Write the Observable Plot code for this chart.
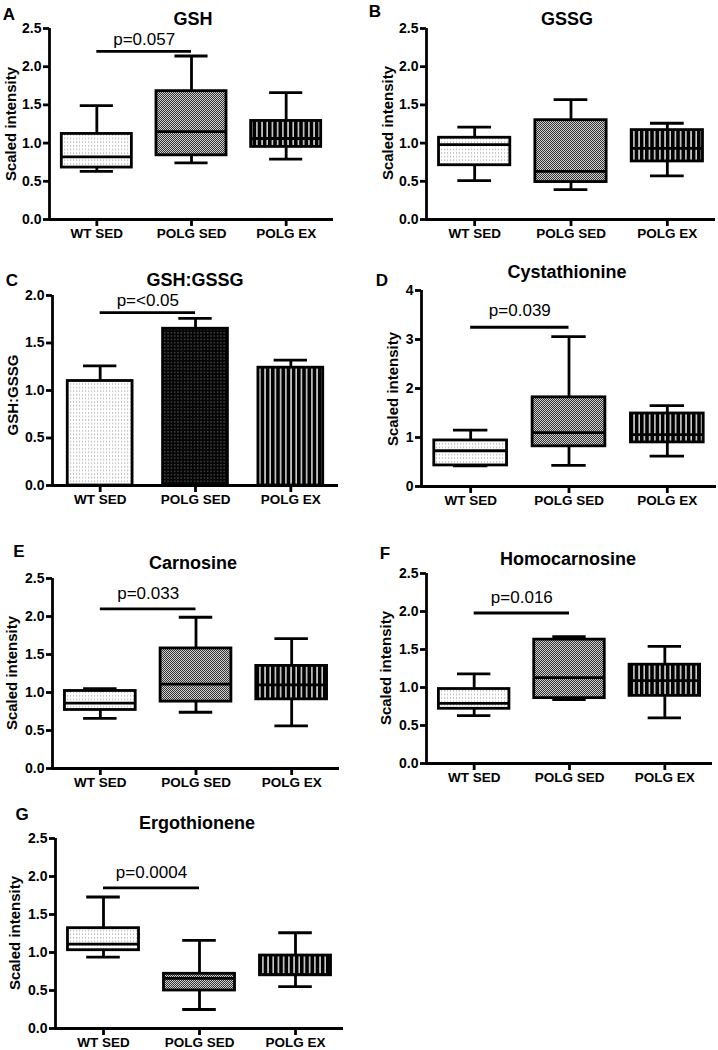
<!DOCTYPE html>
<html><head><meta charset="utf-8">
<script src="https://cdn.jsdelivr.net/npm/d3@7"></script>
<script src="https://cdn.jsdelivr.net/npm/@observablehq/plot@0.6"></script>
<style>
body{margin:0;background:#fff;}
#root{position:relative;width:718px;height:1050px;overflow:hidden;font-family:"Liberation Sans",Arial,sans-serif;background:#fff;}
.lbl{position:absolute;transform:translate(-50%,-50%);white-space:nowrap;font-weight:bold;color:#000;line-height:1;}
.ylab{position:absolute;transform:translate(-50%,-50%) rotate(-90deg);white-space:nowrap;font-weight:bold;font-size:15px;color:#000;line-height:1;}
</style></head><body>
<svg width="0" height="0" style="position:absolute">
<defs>
<pattern id="pWT" width="3" height="3.6" patternUnits="userSpaceOnUse"><rect width="3" height="3.6" fill="#fff"/><rect x="1" y="1.3" width="1.1" height="1" fill="#9a9a9a"/></pattern>
<pattern id="pSED" width="2" height="2" patternUnits="userSpaceOnUse"><rect width="2" height="2" fill="#d0d0d0"/><rect width="1" height="1" fill="#333"/><rect x="1" y="1" width="1" height="1" fill="#333"/></pattern>
<pattern id="pEX" width="5.2" height="4" patternUnits="userSpaceOnUse"><rect width="5.2" height="4" fill="#000"/><rect x="2" width="1.3" height="4" fill="#fff"/></pattern>
<pattern id="pSEDbar" width="3.3" height="3.3" patternUnits="userSpaceOnUse"><rect width="3.3" height="3.3" fill="#050505"/><rect x="1.1" y="1.1" width="1" height="1" fill="#8a8a8a"/></pattern>
</defs></svg>
<div id="root"></div>
<script>
// ---------- DATA ----------
const categories = ["WT SED", "POLG SED", "POLG EX"];

// box stats per category: [low whisker, Q1, median, Q3, high whisker]
const gshStats  = [[0.63,0.68,0.82,1.12,1.49],[0.74,0.84,1.15,1.68,2.14],[0.79,0.95,1.06,1.29,1.66]];
const gssgStats = [[0.51,0.71,0.98,1.07,1.21],[0.39,0.49,0.63,1.30,1.57],[0.57,0.76,0.93,1.17,1.26]];
const cystStats = [[0.42,0.43,0.73,0.94,1.15],[0.43,0.82,1.10,1.82,3.06],[0.62,0.90,1.06,1.49,1.65]];
const carnStats = [[0.66,0.77,0.86,1.02,1.05],[0.74,0.88,1.11,1.58,1.99],[0.56,0.91,1.10,1.35,1.71]];
const homoStats = [[0.63,0.72,0.79,0.98,1.18],[0.84,0.86,1.13,1.63,1.67],[0.60,0.89,1.09,1.30,1.54]];
const ergoStats = [[0.94,1.03,1.11,1.32,1.73],[0.25,0.50,0.66,0.72,1.16],[0.55,0.70,0.71,0.96,1.26]];

// GSH:GSSG ratio, mean and SEM
const ratioMean = [1.10, 1.65, 1.24];
const ratioSem  = [0.16, 0.11, 0.08];

// significance brackets (from/to category index, y level, label)
const sigGSH   = {from: 0, to: 1, y: 2.20, label: "p=0.057"};
const sigRatio = {from: 0, to: 1, y: 1.82, label: "p=<0.05"};
const sigCyst  = {from: 0, to: 1, y: 3.25, label: "p=0.039"};
const sigCarn  = {from: 0, to: 1, y: 2.10, label: "p=0.033"};
const sigHomo  = {from: 0, to: 1, y: 1.98, label: "p=0.016"};
const sigErgo  = {from: 0, to: 1, y: 1.85, label: "p=0.0004"};

// axis ticks
const ticks25 = [0, 0.5, 1.0, 1.5, 2.0, 2.5];
const ticks20 = [0, 0.5, 1.0, 1.5, 2.0];
const ticks4  = [0, 1, 2, 3, 4];

// ---------- STYLE / LAYOUT ----------
const SW = 2.8, BOXW = 0.37, CAPW = 0.175, BARW = 0.34;
const boxFills = ["url(#pWT)", "url(#pSED)", "url(#pEX)"];
const barFills = ["url(#pWT)", "url(#pSEDbar)", "url(#pEX)"];
const root = document.getElementById("root");

function addLabel(cls, text, x, y, size) {
  const d = document.createElement("div");
  d.className = cls; d.textContent = text;
  d.style.left = x + "px"; d.style.top = y + "px";
  if (size) d.style.fontSize = size + "px";
  root.appendChild(d);
}

function panel(p, marks, yDomain, yTicks, fmt, sig) {
  const mL = 34, mR = 4, mT = 10, mB = 28;
  const all = [
    ...marks,
    Plot.ruleX([-0.5], {strokeWidth: SW}),
    Plot.ruleY([0], {strokeWidth: SW}),
    Plot.axisY({ticks: yTicks, tickFormat: fmt, tickSize: 6, tickPadding: 2, strokeWidth: SW, fontSize: 14, fontWeight: "bold", label: null}),
    Plot.axisX({ticks: [0, 1, 2], tickFormat: i => categories[i], tickSize: 7, tickPadding: 2, strokeWidth: SW, fontSize: 13.5, fontWeight: "bold", label: null})
  ];
  if (sig) {
    all.push(Plot.ruleY([sig], {y: "y", x1: "from", x2: "to", strokeWidth: SW}));
    all.push(Plot.text([sig], {x: d => (d.from + d.to) / 2, y: "y", text: "label", dy: p.sigDy, fontSize: 17, fontWeight: "normal"}));
  }
  const svg = Plot.plot({
    width: p.axisEnd - p.axisX + mL + mR,
    height: p.bottom - p.top + mT + mB,
    marginLeft: mL, marginRight: mR, marginTop: mT, marginBottom: mB,
    x: {type: "linear", domain: [-0.5, 2.5]},
    y: {type: "linear", domain: yDomain},
    style: {fontFamily: "'Liberation Sans', Arial, sans-serif", fontSize: "14px", fontWeight: "bold", color: "#000", background: "transparent", overflow: "visible"},
    marks: all
  });
  svg.style.position = "absolute";
  svg.style.left = (p.axisX - mL) + "px";
  svg.style.top = (p.top - mT) + "px";
  root.appendChild(svg);
  addLabel("lbl", p.letter, p.letterPos[0], p.letterPos[1], 17);
  addLabel("lbl", p.title, p.titlePos[0], p.titlePos[1], 18);
  addLabel("ylab", p.ylab, p.ylabPos[0], p.ylabPos[1]);
}

function boxMarks(stats) {
  const rows = stats.map((s, i) => ({i, low: s[0], q1: s[1], med: s[2], q3: s[3], high: s[4]}));
  return [
    Plot.ruleX(rows, {x: "i", y1: "low", y2: "q1", strokeWidth: SW}),
    Plot.ruleX(rows, {x: "i", y1: "q3", y2: "high", strokeWidth: SW}),
    Plot.ruleY(rows, {y: "low", x1: d => d.i - CAPW, x2: d => d.i + CAPW, strokeWidth: SW}),
    Plot.ruleY(rows, {y: "high", x1: d => d.i - CAPW, x2: d => d.i + CAPW, strokeWidth: SW}),
    ...rows.map(r => Plot.rectY([r], {x1: d => d.i - BOXW, x2: d => d.i + BOXW, y1: "q1", y2: "q3", fill: boxFills[r.i], stroke: "#000", strokeWidth: SW})),
    Plot.ruleY(rows, {y: "med", x1: d => d.i - BOXW, x2: d => d.i + BOXW, strokeWidth: SW})
  ];
}

function barMarks(means, sems) {
  const rows = means.map((m, i) => ({i, mean: m, top: m + sems[i]}));
  return [
    Plot.ruleX(rows, {x: "i", y1: "mean", y2: "top", strokeWidth: SW}),
    Plot.ruleY(rows, {y: "top", x1: d => d.i - CAPW, x2: d => d.i + CAPW, strokeWidth: SW}),
    ...rows.map(r => Plot.rectY([r], {x1: d => d.i - BARW, x2: d => d.i + BARW, y1: 0, y2: "mean", fill: barFills[r.i], stroke: "#000", strokeWidth: SW}))
  ];
}

const f1 = d3.format(".1f"), f0 = d3.format("d");

panel({axisX: 49, axisEnd: 333, top: 28, bottom: 219, sigDy: -12, letter: "A", letterPos: [9, 14], title: "GSH", titlePos: [193, 19], ylab: "Scaled intensity", ylabPos: [10, 124]},
  boxMarks(gshStats), [0, 2.5], ticks25, f1, sigGSH);
panel({axisX: 426, axisEnd: 715, top: 28, bottom: 219, letter: "B", letterPos: [375, 11], title: "GSSG", titlePos: [567, 19], ylab: "Scaled intensity", ylabPos: [387, 123]},
  boxMarks(gssgStats), [0, 2.5], ticks25, f1, null);
panel({axisX: 52, axisEnd: 338, top: 295, bottom: 485, sigDy: -12, letter: "C", letterPos: [12, 280], title: "GSH:GSSG", titlePos: [195, 280], ylab: "GSH:GSSG", ylabPos: [12, 395]},
  barMarks(ratioMean, ratioSem), [0, 2.0], ticks20, f1, sigRatio);
panel({axisX: 421, axisEnd: 716, top: 290, bottom: 486, sigDy: -17, letter: "D", letterPos: [382, 280], title: "Cystathionine", titlePos: [567, 272], ylab: "Scaled intensity", ylabPos: [392, 389]},
  boxMarks(cystStats), [0, 4], ticks4, f0, sigCyst);
panel({axisX: 52, axisEnd: 339, top: 578, bottom: 768, sigDy: -15, letter: "E", letterPos: [19, 551], title: "Carnosine", titlePos: [193, 563], ylab: "Scaled intensity", ylabPos: [11, 673]},
  boxMarks(carnStats), [0, 2.5], ticks25, f1, sigCarn);
panel({axisX: 426, axisEnd: 712, top: 573, bottom: 763, sigDy: -15, letter: "F", letterPos: [385, 553], title: "Homocarnosine", titlePos: [568, 559], ylab: "Scaled intensity", ylabPos: [385, 668]},
  boxMarks(homoStats), [0, 2.5], ticks25, f1, sigHomo);
panel({axisX: 55, axisEnd: 343, top: 838, bottom: 1028, sigDy: -15, letter: "G", letterPos: [22, 814], title: "Ergothionene", titlePos: [197, 823], ylab: "Scaled intensity", ylabPos: [14, 933]},
  boxMarks(ergoStats), [0, 2.5], ticks25, f1, sigErgo);
</script>
</body></html>
